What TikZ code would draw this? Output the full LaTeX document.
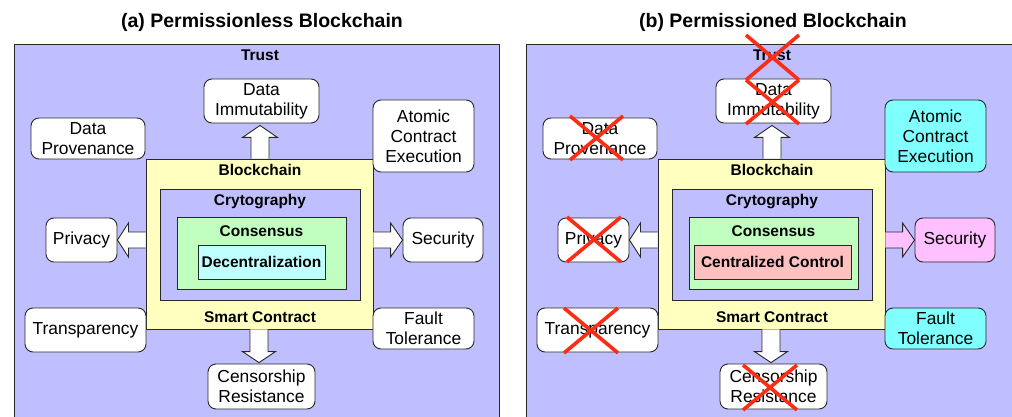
\documentclass[tikz,border=0pt]{standalone}
\usepackage{fontspec}
\setmainfont{Liberation Sans}
\usetikzlibrary{calc}

\definecolor{trustbg}{RGB}{191,191,255}
\definecolor{chainbg}{RGB}{255,255,192}
\definecolor{consbg}{RGB}{192,255,192}
\definecolor{decbg}{RGB}{192,255,255}
\definecolor{ctrlbg}{RGB}{255,192,192}
\definecolor{aquabg}{RGB}{128,255,255}
\definecolor{pinkbg}{RGB}{255,192,255}
\definecolor{edge}{RGB}{40,40,40}
\definecolor{crossred}{RGB}{252,45,20}

\tikzset{
  panel/.style={draw=edge, line width=0.9pt, fill=trustbg},
  feature/.style={draw=edge, line width=0.9pt, rounded corners=8pt, fill=white,
    align=center, inner sep=0pt, font=\fontsize{17.4}{20}\selectfont},
  layer/.style={draw=edge, line width=0.9pt, inner sep=0pt},
  layerlabel/.style={font=\fontsize{15.5}{18}\selectfont\bfseries, inner sep=0pt},
  paneltitle/.style={font=\fontsize{19.5}{22}\selectfont\bfseries, inner sep=0pt},
  blockarrow/.style={draw=edge, line width=0.9pt, fill=white, line join=miter},
  crossout/.style={draw=crossred, line width=3.6pt},
}

\begin{document}
\begin{tikzpicture}[x=1pt,y=-1pt]
\useasboundingbox (0,0) rectangle (1012,417);

% ---------- trust panels (cut off at the bottom and right) ----------
\begin{scope}
  \clip (0,0) rectangle (1012,417);
  \draw[panel] (14.5,44) rectangle (499.5,440);
  \draw[panel] (526.5,44) rectangle (1030,440);
\end{scope}

% ================= (a) permissionless =================
\node[paneltitle] (a-title) at (262,22) {(a) Permissionless Blockchain};
\node[layerlabel] (a-trust) at (260,55) {Trust};

\node[layer, fill=chainbg, minimum width=227pt, minimum height=170pt] (a-bc) at (259.5,244) {};
\node[layer, fill=trustbg, minimum width=200pt, minimum height=111pt] (a-cry) at (260,244.5) {};
\node[layer, fill=consbg, minimum width=169pt, minimum height=72pt] (a-con) at (261.5,253) {};
\node[layer, fill=decbg, minimum width=127pt, minimum height=34pt, layerlabel] (a-core) at (261.5,262) {Decentralization};
\node[layerlabel] (a-bcl) at (260,170) {Blockchain};
\node[layerlabel] (a-cryl) at (260,202) {Crytography};
\node[layerlabel] (a-conl) at (261.5,231) {Consensus};
\node[layerlabel] (a-scl) at (260,317) {Smart Contract};

\node[feature, minimum width=115pt, minimum height=44pt] (a-imm) at (261.5,101) {Data\\Immutability};
\node[feature, minimum width=114pt, minimum height=41pt] (a-prov) at (88,138.5) {Data\\Provenance};
\node[feature, minimum width=101pt, minimum height=72pt] (a-atom) at (423.5,136) {Atomic\\Contract\\Execution};
\node[feature, minimum width=71pt, minimum height=44pt] (a-priv) at (81.5,240) {Privacy};
\node[feature, minimum width=80pt, minimum height=44pt] (a-sec) at (443,240) {Security};
\node[feature, minimum width=121pt, minimum height=44pt] (a-trans) at (85.5,330) {Transparency};
\node[feature, minimum width=101pt, minimum height=41pt] (a-fault) at (423.5,328.5) {Fault\\Tolerance};
\node[feature, minimum width=107pt, minimum height=45pt] (a-cens) at (261.5,386.5) {Censorship\\Resistance};

% block arrows out of the blockchain layer
\coordinate (a-up) at (a-bc.north -| 260,0);
\coordinate (a-uptip) at (260,0 |- a-imm.south);
\filldraw[blockarrow] ($(a-up)+(-9,0)$) -- ($(a-uptip)+(-9,14)$) -- ($(a-uptip)+(-17.5,14)$)
  -- ($(a-uptip)+(0,2)$) -- ($(a-uptip)+(17.5,14)$) -- ($(a-uptip)+(9,14)$) -- ($(a-up)+(9,0)$);
\coordinate (a-lf) at (a-bc.west |- a-priv.east);
\filldraw[blockarrow] ($(a-lf)+(0,-8)$) -- ($(a-priv.east)+(11,-8)$) -- ($(a-priv.east)+(11,-17)$)
  -- ($(a-priv.east)+(0,0)$) -- ($(a-priv.east)+(11,17)$) -- ($(a-priv.east)+(11,8)$) -- ($(a-lf)+(0,8)$);
\coordinate (a-rt) at (a-bc.east |- a-sec.west);
\filldraw[blockarrow] ($(a-rt)+(0,-8)$) -- ($(a-sec.west)+(-12,-8)$) -- ($(a-sec.west)+(-12,-17)$)
  -- ($(a-sec.west)+(0,0)$) -- ($(a-sec.west)+(-12,17)$) -- ($(a-sec.west)+(-12,8)$) -- ($(a-rt)+(0,8)$);
\coordinate (a-dn) at (a-bc.south -| 259,0);
\coordinate (a-dntip) at (259,0 |- a-cens.north);
\filldraw[blockarrow] ($(a-dn)+(-9,0)$) -- ($(a-dntip)+(-9,-12)$) -- ($(a-dntip)+(-16.5,-12)$)
  -- ($(a-dntip)+(0,-1)$) -- ($(a-dntip)+(16.5,-12)$) -- ($(a-dntip)+(9,-12)$) -- ($(a-dn)+(9,0)$);

% ================= (b) permissioned =================
\node[paneltitle] (b-title) at (773,22) {(b) Permissioned Blockchain};
\node[layerlabel] (b-trust) at (772,55) {Trust};

\node[layer, fill=chainbg, minimum width=227pt, minimum height=170pt] (b-bc) at (771.5,244) {};
\node[layer, fill=trustbg, minimum width=200pt, minimum height=111pt] (b-cry) at (772,244.5) {};
\node[layer, fill=consbg, minimum width=169pt, minimum height=72pt] (b-con) at (773.5,253) {};
\node[layer, fill=ctrlbg, minimum width=157pt, minimum height=34pt, layerlabel] (b-core) at (772.5,262) {Centralized Control};
\node[layerlabel] (b-bcl) at (772,170) {Blockchain};
\node[layerlabel] (b-cryl) at (772,202) {Crytography};
\node[layerlabel] (b-conl) at (773.5,231) {Consensus};
\node[layerlabel] (b-scl) at (772,317) {Smart Contract};

\node[feature, minimum width=115pt, minimum height=44pt] (b-imm) at (773.5,101) {Data\\Immutability};
\node[feature, minimum width=114pt, minimum height=41pt] (b-prov) at (600,138.5) {Data\\Provenance};
\node[feature, fill=aquabg, minimum width=101pt, minimum height=72pt] (b-atom) at (935.5,136) {Atomic\\Contract\\Execution};
\node[feature, minimum width=71pt, minimum height=44pt] (b-priv) at (593.5,240) {Privacy};
\node[feature, fill=pinkbg, minimum width=80pt, minimum height=44pt] (b-sec) at (955,240) {Security};
\node[feature, minimum width=121pt, minimum height=44pt] (b-trans) at (597.5,330) {Transparency};
\node[feature, fill=aquabg, minimum width=101pt, minimum height=41pt] (b-fault) at (935.5,328.5) {Fault\\Tolerance};
\node[feature, minimum width=107pt, minimum height=45pt] (b-cens) at (773.5,386.5) {Censorship\\Resistance};

\coordinate (b-up) at (b-bc.north -| 772,0);
\coordinate (b-uptip) at (772,0 |- b-imm.south);
\filldraw[blockarrow] ($(b-up)+(-9,0)$) -- ($(b-uptip)+(-9,14)$) -- ($(b-uptip)+(-17.5,14)$)
  -- ($(b-uptip)+(0,2)$) -- ($(b-uptip)+(17.5,14)$) -- ($(b-uptip)+(9,14)$) -- ($(b-up)+(9,0)$);
\coordinate (b-lf) at (b-bc.west |- b-priv.east);
\filldraw[blockarrow] ($(b-lf)+(0,-8)$) -- ($(b-priv.east)+(11,-8)$) -- ($(b-priv.east)+(11,-17)$)
  -- ($(b-priv.east)+(0,0)$) -- ($(b-priv.east)+(11,17)$) -- ($(b-priv.east)+(11,8)$) -- ($(b-lf)+(0,8)$);
\coordinate (b-rt) at (b-bc.east |- b-sec.west);
\filldraw[blockarrow, fill=pinkbg] ($(b-rt)+(0,-8)$) -- ($(b-sec.west)+(-12,-8)$) -- ($(b-sec.west)+(-12,-17)$)
  -- ($(b-sec.west)+(0,0)$) -- ($(b-sec.west)+(-12,17)$) -- ($(b-sec.west)+(-12,8)$) -- ($(b-rt)+(0,8)$);
\coordinate (b-dn) at (b-bc.south -| 771,0);
\coordinate (b-dntip) at (771,0 |- b-cens.north);
\filldraw[blockarrow] ($(b-dn)+(-9,0)$) -- ($(b-dntip)+(-9,-12)$) -- ($(b-dntip)+(-16.5,-12)$)
  -- ($(b-dntip)+(0,-1)$) -- ($(b-dntip)+(16.5,-12)$) -- ($(b-dntip)+(9,-12)$) -- ($(b-dn)+(9,0)$);

% properties lost in a permissioned chain
\draw[crossout] (746,35) -- (799,80) (799,35) -- (746,80);
\draw[crossout] (746,80) -- (799,124) (799,80) -- (746,124);
\draw[crossout] (570,116) -- (623,160) (623,116) -- (570,160);
\draw[crossout] (567,217) -- (621,262) (621,217) -- (567,262);
\draw[crossout] (564,308) -- (618,353) (618,308) -- (564,353);
\draw[crossout] (743,365) -- (797,410) (797,365) -- (743,410);
\end{tikzpicture}
\end{document}
